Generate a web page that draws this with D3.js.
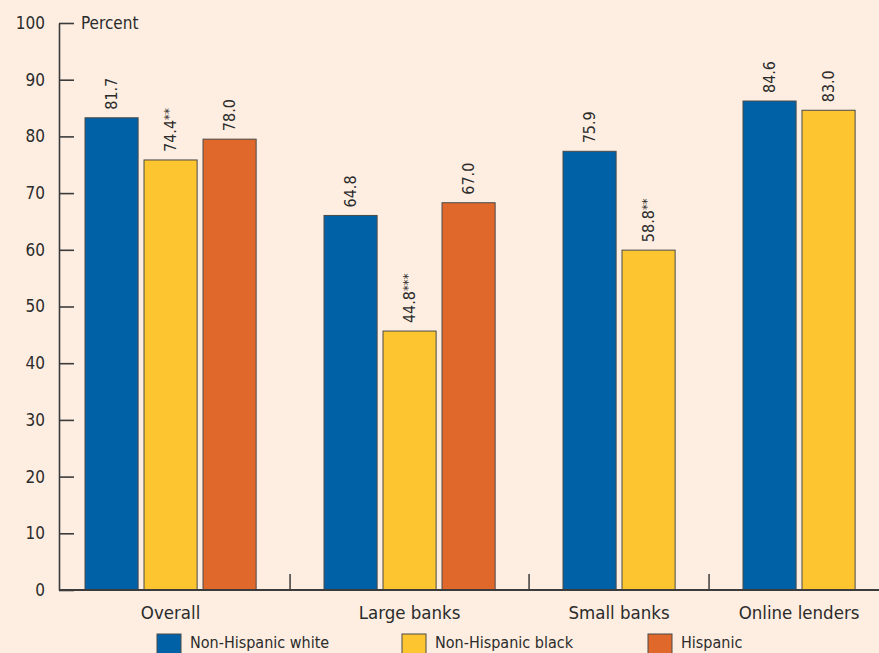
<!DOCTYPE html>
<html>
<head>
<meta charset="utf-8">
<script src="https://cdn.jsdelivr.net/npm/d3@7"></script>
<style>
  html, body { margin: 0; padding: 0; background: #fdeee1; }
  svg { display: block; }
  text { font-family: "Liberation Sans Narrow", "DejaVu Sans Condensed", "Roboto", sans-serif; fill: #2b2b2b; }
</style>
</head>
<body>
<svg id="chart"></svg>
<script>
const categories = ['Overall', 'Large banks', 'Small banks', 'Online lenders'];
const seriesNames = ['Non-Hispanic white', 'Non-Hispanic black', 'Hispanic'];
const whiteValues = [81.7, 64.8, 75.9, 84.6];
const blackValues = [74.4, 44.8, 58.8, 83.0];
const hispanicValues = [78.0, 67.0, null, null];
const blackStars = ['**', '***', '**', ''];
const yTicks = [0, 10, 20, 30, 40, 50, 60, 70, 80, 90, 100];

const colors = ['#0061a6', '#fdc52f', '#e0682b'];

const width = 879, height = 653;
const svg = d3.select('#chart').attr('width', width).attr('height', height);

// axis scale and bar scale (bars in the source sit on a slightly taller scale)
const y = d3.scaleLinear().domain([0, 100]).range([590, 23]);
const yBar = d3.scaleLinear().domain([0, 100]).range([590, 12]);

// build flat list of bars
const bars = [];
let k = 0;
categories.forEach((c, g) => {
  [whiteValues, blackValues, hispanicValues].forEach((arr, s) => {
    if (arr[g] == null) return;
    bars.push({cat: c, g: g, s: s, k: k, value: arr[g],
      label: arr[g].toFixed(1), stars: s === 1 ? blackStars[g] : ''});
    k++;
  });
});

const gapRatio = 1.05;
const x = d3.scaleLinear().domain([0, 12.15]).range([85, 802]);
const step = x(1) - x(0);
const barW = step * 0.9;
const pos = d => x(d.k + d.g * gapRatio);

// y axis
const yAxis = d3.axisLeft(y).tickValues(yTicks).tickSize(0).tickPadding(14);
const ga = svg.append('g').attr('transform', 'translate(59,0)').call(yAxis);
ga.select('.domain').attr('stroke', '#3b3b3b').attr('stroke-width', 1.6);
ga.selectAll('.tick text').style('font-size', '17px').attr('fill', '#2b2b2b')
  .attr('font-family', null);
ga.selectAll('.tick').append('line')
  .attr('x1', 0).attr('x2', 15).attr('stroke', '#3b3b3b').attr('stroke-width', 1.6);

svg.append('text').attr('x', 81).attr('y', y(100)).attr('dy', '0.35em')
  .style('font-size', '17px').text('Percent');

// bars
svg.selectAll('rect.bar').data(bars).enter().append('rect')
  .attr('class', 'bar')
  .attr('x', d => pos(d))
  .attr('y', d => yBar(d.value))
  .attr('width', barW)
  .attr('height', d => yBar(0) - yBar(d.value))
  .attr('fill', d => colors[d.s])
  .attr('stroke', '#4a4a4a')
  .attr('stroke-width', 1);

// value labels
const lab = svg.selectAll('text.val').data(bars).enter().append('text')
  .attr('class', 'val')
  .attr('transform', d => 'translate(' + (pos(d) + barW / 2) + ',' + (yBar(d.value) - 8) + ')rotate(-90)')
  .attr('dy', '0.36em')
  .style('font-size', '16px')
  .text(d => d.label);
lab.filter(d => d.stars).append('tspan')
  .attr('dy', '-0.25em')
  .style('font-size', '13px')
  .text(d => d.stars);

// baseline
svg.append('line').attr('x1', 59).attr('x2', width).attr('y1', y(0)).attr('y2', y(0))
  .attr('stroke', '#3b3b3b').attr('stroke-width', 1.8);

// group separators and category labels
const groups = categories.map((c, g) => {
  const gb = bars.filter(b => b.g === g);
  return {cat: c, left: pos(gb[0]), right: pos(gb[gb.length - 1]) + barW};
});
groups.slice(1).forEach((gr, i) => {
  const sx = (groups[i].right + gr.left) / 2;
  svg.append('line').attr('x1', sx).attr('x2', sx).attr('y1', y(0)).attr('y2', y(0) - 16)
    .attr('stroke', '#3b3b3b').attr('stroke-width', 1.5);
});
svg.selectAll('text.cat').data(groups).enter().append('text')
  .attr('class', 'cat')
  .attr('x', d => (d.left + d.right) / 2)
  .attr('y', 619)
  .attr('text-anchor', 'middle')
  .style('font-size', '18.5px')
  .text(d => d.cat);

// legend
const legX = [157, 402, 648];
const leg = svg.selectAll('g.leg').data(seriesNames).enter().append('g')
  .attr('class', 'leg')
  .attr('transform', (d, i) => 'translate(' + legX[i] + ',634)');
leg.append('rect').attr('width', 24).attr('height', 24)
  .attr('fill', (d, i) => colors[i]).attr('stroke', '#4a4a4a').attr('stroke-width', 1);
leg.append('text').attr('x', 33).attr('y', 14)
  .style('font-size', '16px').text(d => d);
</script>
</body>
</html>
